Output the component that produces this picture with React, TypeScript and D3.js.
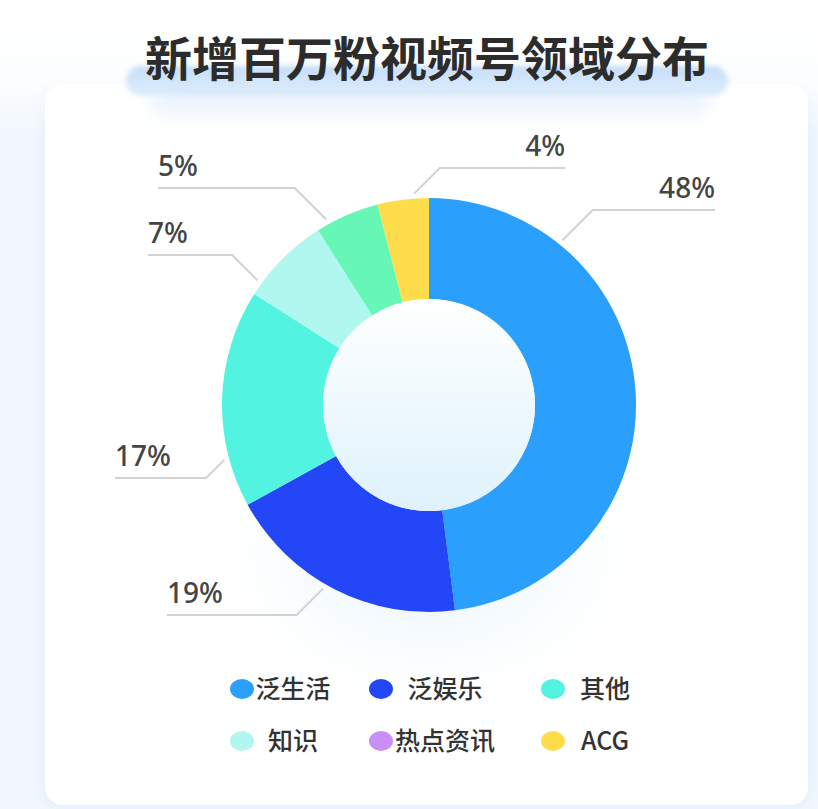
import React, { useEffect, useRef } from "react";
import * as d3 from "d3";

// chart data
const categories = ["泛生活", "泛娱乐", "其他", "知识", "热点资讯", "ACG"];
const shares = [48, 19, 17, 7, 5, 4];
const sliceColors = ["#2a9ffb", "#2346f6", "#52f3e1", "#b0f8ef", "#66f7b6", "#fedd4c"];
const legendColors = ["#2a9ffb", "#2346f6", "#52f3e1", "#b0f8ef", "#c98ff6", "#fedd4c"];
const title = "新增百万粉视频号领域分布";

// where each leader line leaves the ring, and the row it ends on
const labelAngles = [39, 210, 255, 306, 331, 356];
const labelRows = [210, 615, 478, 255, 188, 168];
const labelEnds = [715, 167, 115, 148, 158, 565];

const W = 818;
const H = 809;

const App: React.FC = () => {
  const ref = useRef<HTMLDivElement>(null);

  useEffect(() => {
    document.body.style.margin = "0";
    const root = d3.select(ref.current);
    root.selectAll("*").remove();

    const svg = root
      .append("svg")
      .attr("width", W)
      .attr("height", H)
      .style("display", "block");

    const defs = svg.append("defs");

    const cardShadow = defs.append("filter").attr("id", "cardShadow")
      .attr("x", "-10%").attr("y", "-10%").attr("width", "120%").attr("height", "120%");
    cardShadow.append("feDropShadow")
      .attr("dx", 0).attr("dy", 0).attr("stdDeviation", 8)
      .attr("flood-color", "#d6e8f9").attr("flood-opacity", 0.8);

    const blur = defs.append("filter").attr("id", "blur")
      .attr("x", "-20%").attr("y", "-80%").attr("width", "140%").attr("height", "260%");
    blur.append("feGaussianBlur").attr("stdDeviation", 2.5);

    const haze = defs.append("filter").attr("id", "haze")
      .attr("x", "-20%").attr("y", "-100%").attr("width", "140%").attr("height", "300%");
    haze.append("feGaussianBlur").attr("stdDeviation", 9);

    const pillGrad = defs.append("linearGradient").attr("id", "pillGrad")
      .attr("x1", 0).attr("y1", 0).attr("x2", 0).attr("y2", 1);
    pillGrad.append("stop").attr("offset", "0%").attr("stop-color", "#c6def8");
    pillGrad.append("stop").attr("offset", "100%").attr("stop-color", "#deedfc");

    const topFade = defs.append("linearGradient").attr("id", "topFade")
      .attr("x1", 0).attr("y1", 0).attr("x2", 0).attr("y2", 1);
    topFade.append("stop").attr("offset", "0%").attr("stop-color", "#ffffff").attr("stop-opacity", 1);
    topFade.append("stop").attr("offset", "60%").attr("stop-color", "#ffffff").attr("stop-opacity", 0.8);
    topFade.append("stop").attr("offset", "100%").attr("stop-color", "#ffffff").attr("stop-opacity", 0);

    const glow = defs.append("radialGradient").attr("id", "glow");
    glow.append("stop").attr("offset", "0%").attr("stop-color", "#dcf0fc").attr("stop-opacity", 0.9);
    glow.append("stop").attr("offset", "100%").attr("stop-color", "#ffffff").attr("stop-opacity", 0);

    const hole = defs.append("linearGradient").attr("id", "hole")
      .attr("x1", 0).attr("y1", 0).attr("x2", 0).attr("y2", 1);
    hole.append("stop").attr("offset", "0%").attr("stop-color", "#ffffff");
    hole.append("stop").attr("offset", "100%").attr("stop-color", "#def2fc");

    // page + card
    svg.append("rect").attr("width", W).attr("height", H).attr("fill", "#f1f7fd");
    svg.append("rect")
      .attr("x", 45).attr("y", 84).attr("width", 763).attr("height", 721)
      .attr("rx", 18).attr("fill", "#ffffff")
      .attr("filter", "url(#cardShadow)");
    svg.append("rect").attr("width", W).attr("height", 135).attr("fill", "url(#topFade)");

    // title highlight
    svg.append("rect")
      .attr("x", 150).attr("y", 88).attr("width", 560).attr("height", 26)
      .attr("rx", 13).attr("fill", "#e4f0fc").attr("opacity", 0.8)
      .attr("filter", "url(#haze)");
    svg.append("rect")
      .attr("x", 126).attr("y", 66).attr("width", 602).attr("height", 30)
      .attr("rx", 15).attr("fill", "url(#pillGrad)")
      .attr("filter", "url(#blur)");

    svg.append("text")
      .attr("x", 427).attr("y", 76)
      .attr("text-anchor", "middle")
      .attr("font-family", "'Noto Sans CJK SC', sans-serif")
      .attr("font-weight", 700)
      .attr("font-size", 47)
      .attr("fill", "#2c2c2c")
      .text(title);

    // donut
    const cx = 429;
    const cy = 405;
    const outerR = 207;
    const innerR = 106;

    svg.append("ellipse")
      .attr("cx", cx).attr("cy", cy + 150)
      .attr("rx", 240).attr("ry", 170)
      .attr("fill", "url(#glow)");

    const pie = d3.pie<number>().sort(null).value((d) => d);
    const arcs = pie(shares);
    const arc = d3.arc<d3.PieArcDatum<number>>().innerRadius(innerR).outerRadius(outerR);

    const g = svg.append("g").attr("transform", `translate(${cx},${cy})`);
    g.selectAll("path.slice")
      .data(arcs)
      .join("path")
      .attr("class", "slice")
      .attr("d", arc)
      .attr("fill", (_, i) => sliceColors[i]);

    g.append("circle").attr("r", innerR).attr("fill", "url(#hole)");

    // leader lines + labels
    const rad = d3.scaleLinear().domain([0, 360]).range([0, 2 * Math.PI]);
    const lineR = outerR + 5;
    arcs.forEach((d, i) => {
      const a = rad(labelAngles[i]);
      const sx = cx + lineR * Math.sin(a);
      const sy = cy - lineR * Math.cos(a);
      const right = labelEnds[i] > sx;
      const ey = labelRows[i];
      const ex = sx + (right ? 1 : -1) * Math.abs(ey - sy);
      svg.append("polyline")
        .attr("points", `${sx},${sy} ${ex},${ey} ${labelEnds[i]},${ey}`)
        .attr("fill", "none")
        .attr("stroke", "#d2d2d2")
        .attr("stroke-width", 2);
      svg.append("text")
        .attr("x", labelEnds[i])
        .attr("y", ey - 12)
        .attr("text-anchor", right ? "end" : "start")
        .attr("font-family", "'Noto Sans', 'Noto Sans CJK SC', sans-serif")
        .attr("font-weight", 500)
        .attr("font-size", 28)
        .attr("fill", "#444444")
        .text(`${d.data}%`);
    });

    // legend
    const dotX = [242, 381, 553];
    const textX = [293, 445, 605];
    const rowY = [689, 741];
    categories.forEach((name, i) => {
      const col = i % 3;
      const row = Math.floor(i / 3);
      svg.append("ellipse")
        .attr("cx", dotX[col]).attr("cy", rowY[row])
        .attr("rx", 12).attr("ry", 10)
        .attr("fill", legendColors[i]);
      svg.append("text")
        .attr("x", textX[col]).attr("y", rowY[row])
        .attr("dy", "0.36em")
        .attr("text-anchor", "middle")
        .attr("font-family", "'Noto Sans CJK SC', sans-serif")
        .attr("font-weight", 500)
        .attr("font-size", 25)
        .attr("fill", "#333333")
        .text(name);
    });

    return () => {
      root.selectAll("*").remove();
    };
  }, []);

  return <div ref={ref}></div>;
};

export default App;
